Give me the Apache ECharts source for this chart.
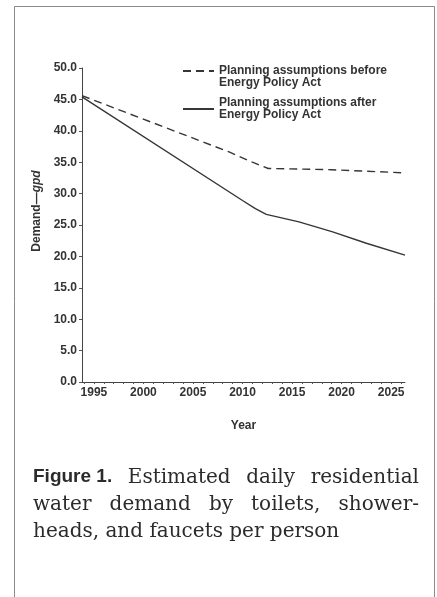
<!DOCTYPE html>
<html>
<head>
<meta charset="utf-8">
<style>
html,body{margin:0;padding:0;background:#fff;}
#chart{width:437px;height:597px;}
</style>
<script src="https://cdn.jsdelivr.net/npm/echarts@6/dist/echarts.min.js"></script>
</head>
<body>
<div id="chart"></div>
<script>
// ---- data ----
var seriesNames = [
  'Planning assumptions before\nEnergy Policy Act',
  'Planning assumptions after\nEnergy Policy Act'
];
var beforeYears  = [1993.8, 2008.7, 2011.0, 2012.6, 2019.0, 2026.4];
var beforeValues = [45.6,   36.6,   35.0,   34.0,   33.8,   33.3];
var afterYears   = [1993.8, 2010.0, 2011.3, 2012.4, 2015.7, 2019.1, 2022.5, 2026.4];
var afterValues  = [45.4,   28.9,   27.6,   26.7,   25.5,   23.9,   22.1,   20.2];
var xTickLabels  = [1995, 2000, 2005, 2010, 2015, 2020, 2025];
var xMinorTicks  = [1994,1995,1996,1997,1998,1999,2000,2001,2002,2003,2004,2005,2006,2007,2008,2009,2010,2011,2012,2013,2014,2015,2016,2017,2018,2019,2020,2021,2022,2023,2024,2025,2026];
var yAxisName = 'Demand—';
var yAxisUnit = 'gpd';
var xAxisName = 'Year';
var captionLines = [
  [{t:'Figure 1.', b:true}, {t:'Estimated'}, {t:'daily'}, {t:'residential'}],
  [{t:'water'}, {t:'demand'}, {t:'by'}, {t:'toilets,'}, {t:'shower-'}],
  [{t:'heads,'}, {t:'and'}, {t:'faucets'}, {t:'per'}, {t:'person'}]
];

function pairs(xs, ys){ return xs.map(function(x,i){ return [x, ys[i]]; }); }

var ink = '#363636';
var sansFam = '"Liberation Sans", Arial, sans-serif';
var capSerif = '20px "DejaVu Serif", "Liberation Serif", serif';
var capSans  = 'bold 19px "Liberation Sans", Arial, sans-serif';

// ---- caption layout (justified lines) ----
var ctx = document.createElement('canvas').getContext('2d');
function w(font, s){ ctx.font = font; return ctx.measureText(s).width; }
var capLeft = 33, capRight = 419;
var baselines = [488, 515, 542];
var capGraphics = [];
captionLines.forEach(function(words, li){
  var widths = words.map(function(o){ return w(o.b ? capSans : capSerif, o.t); });
  var total = widths.reduce(function(a,b){return a+b;}, 0);
  var justify = li < captionLines.length - 1;
  var gap = justify ? (capRight - capLeft - total) / (words.length - 1) : w(capSerif, ' ');
  var x = capLeft;
  words.forEach(function(o, i){
    capGraphics.push({
      type: 'text', x: x, y: baselines[li] + (o.b ? -2 : 0),
      style: { text: o.t, font: o.b ? capSans : capSerif, fill: '#2b2b2b',
               verticalAlign: 'bottom', align: 'left' }
    });
    x += widths[i] + gap;
  });
});

var legendText = { fontFamily: sansFam, fontWeight: 'bold', fontSize: 12, lineHeight: 12, color: '#333' };
var chart = echarts.init(document.getElementById('chart'), null, {renderer: 'canvas'});
var option = {
  backgroundColor: '#ffffff',
  animation: false,
  grid: { left: 82, top: 68, width: 323, height: 314 },
  legend: [
    {
      data: [seriesNames[0]], left: 182, top: 53, padding: 0,
      itemWidth: 31, itemHeight: 12,
      formatter: function(n){ return ' \n' + n; },
      textStyle: legendText
    },
    {
      data: [seriesNames[1]], left: 182, top: 97, padding: 0,
      itemWidth: 31, itemHeight: 12,
      textStyle: legendText
    }
  ],
  xAxis: {
    type: 'value', min: 1993.8, max: 2026.4,
    name: xAxisName, nameLocation: 'middle', nameGap: 38,
    nameTextStyle: { fontFamily: sansFam, fontWeight: 'bold', fontSize: 12, color: '#333' },
    axisLine: { show: true, lineStyle: { color: '#444', width: 1 } },
    axisTick: { show: true, customValues: xMinorTicks, length: 2, lineStyle: { color: '#555' } },
    axisLabel: { customValues: xTickLabels, formatter: function(v){ return String(v); },
                 fontFamily: sansFam, fontWeight: 'bold', fontSize: 12, color: '#333', margin: 5 },
    splitLine: { show: false }
  },
  yAxis: {
    type: 'value', min: 0, max: 50, interval: 5,
    name: '{n|' + yAxisName + '}{i|' + yAxisUnit + '}', nameLocation: 'middle', nameGap: 33,
    nameTextStyle: {
      padding: [0, 0, 0, 28],
      rich: {
        n: { fontFamily: sansFam, fontWeight: 'bold', fontSize: 12, color: '#333' },
        i: { fontFamily: sansFam, fontWeight: 'bold', fontStyle: 'italic', fontSize: 12, color: '#333' }
      }
    },
    axisLine: { show: true, lineStyle: { color: '#444', width: 1 } },
    axisTick: { show: true, length: 3, lineStyle: { color: '#555' } },
    axisLabel: { formatter: function(v){ return v.toFixed(1); },
                 fontFamily: sansFam, fontWeight: 'bold', fontSize: 12, color: '#333', margin: 5 },
    splitLine: { show: false }
  },
  series: [
    {
      name: seriesNames[0], type: 'line', symbol: 'none', data: pairs(beforeYears, beforeValues),
      lineStyle: { color: ink, width: 1.4, type: [8, 5] }, itemStyle: { color: 'rgba(0,0,0,0)', borderWidth: 0 }
    },
    {
      name: seriesNames[1], type: 'line', symbol: 'none', data: pairs(afterYears, afterValues),
      lineStyle: { color: ink, width: 1.4, type: 'solid' }, itemStyle: { color: 'rgba(0,0,0,0)', borderWidth: 0 }
    }
  ],
  graphic: [
    { type: 'polyline', shape: { points: [[14.5, 597], [14.5, 6.5], [434.5, 6.5], [434.5, 597]] },
      style: { stroke: '#8a8a8a', fill: null, lineWidth: 1 }, silent: true }
  ].concat(capGraphics)
};
chart.setOption(option);
</script>
</body>
</html>
